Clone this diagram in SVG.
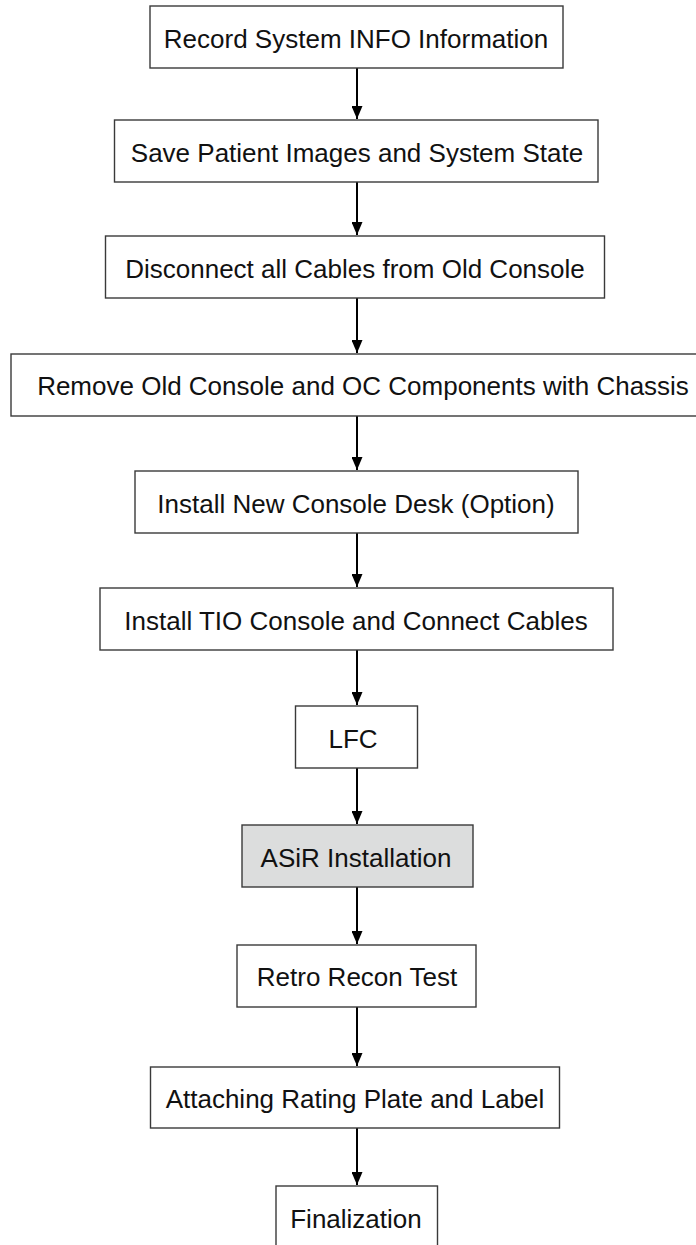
<svg xmlns="http://www.w3.org/2000/svg" width="696" height="1245" viewBox="0 0 696 1245">
<style>
.box{fill:#ffffff;stroke:#3a3a3a;stroke-width:1.4}
.hl{fill:#dcdddd}
.lbl{font-family:"Liberation Sans",Arial,sans-serif;font-size:26px;fill:#111111;text-anchor:middle}
.edge{stroke:#000000;stroke-width:2;fill:none}
</style>
<defs>
<marker id="ah" viewBox="0 0 13 11" refX="13" refY="5.5" markerWidth="13" markerHeight="11" markerUnits="userSpaceOnUse" orient="auto">
<path d="M0,0 L13,5.5 L0,11 Z" fill="#000000"/>
</marker>
</defs>
<rect width="696" height="1245" fill="#ffffff"/>
<g id="connectors">
<line class="edge" x1="357" y1="68" x2="357" y2="119" marker-end="url(#ah)"/>
<line class="edge" x1="357" y1="182" x2="357" y2="235" marker-end="url(#ah)"/>
<line class="edge" x1="357" y1="298" x2="357" y2="353" marker-end="url(#ah)"/>
<line class="edge" x1="357" y1="416" x2="357" y2="470" marker-end="url(#ah)"/>
<line class="edge" x1="357" y1="533" x2="357" y2="587" marker-end="url(#ah)"/>
<line class="edge" x1="357" y1="650" x2="357" y2="705" marker-end="url(#ah)"/>
<line class="edge" x1="357" y1="768" x2="357" y2="824" marker-end="url(#ah)"/>
<line class="edge" x1="357" y1="887" x2="357" y2="944" marker-end="url(#ah)"/>
<line class="edge" x1="357" y1="1007" x2="357" y2="1066" marker-end="url(#ah)"/>
<line class="edge" x1="357" y1="1128" x2="357" y2="1185" marker-end="url(#ah)"/>
</g>
<g id="n1"><rect class="box" x="150" y="6" width="413" height="62"/><text class="lbl" x="356" y="48">Record System INFO Information</text></g>
<g id="n2"><rect class="box" x="114.5" y="120" width="483.5" height="62"/><text class="lbl" x="357" y="162">Save Patient Images and System State</text></g>
<g id="n3"><rect class="box" x="105.5" y="236" width="499" height="62"/><text class="lbl" x="355" y="278">Disconnect all Cables from Old Console</text></g>
<g id="n4"><rect class="box" x="11" y="354" width="705" height="62"/><text class="lbl" x="363" y="395">Remove Old Console and OC Components with Chassis</text></g>
<g id="n5"><rect class="box" x="135" y="471" width="443" height="62"/><text class="lbl" x="356" y="513">Install New Console Desk (Option)</text></g>
<g id="n6"><rect class="box" x="100" y="588" width="513" height="62"/><text class="lbl" x="356" y="630">Install TIO Console and Connect Cables</text></g>
<g id="n7"><rect class="box" x="295.5" y="706" width="122" height="62"/><text class="lbl" x="353" y="748">LFC</text></g>
<g id="n8"><rect class="box hl" x="242" y="825" width="231" height="62"/><text class="lbl" x="356" y="867">ASiR Installation</text></g>
<g id="n9"><rect class="box" x="237" y="945" width="239" height="62"/><text class="lbl" x="357" y="986">Retro Recon Test</text></g>
<g id="n10"><rect class="box" x="150.5" y="1067" width="409" height="61"/><text class="lbl" x="355" y="1108">Attaching Rating Plate and Label</text></g>
<g id="n11"><rect class="box" x="276" y="1186" width="161.5" height="62"/><text class="lbl" x="356" y="1228">Finalization</text></g>
</svg>
